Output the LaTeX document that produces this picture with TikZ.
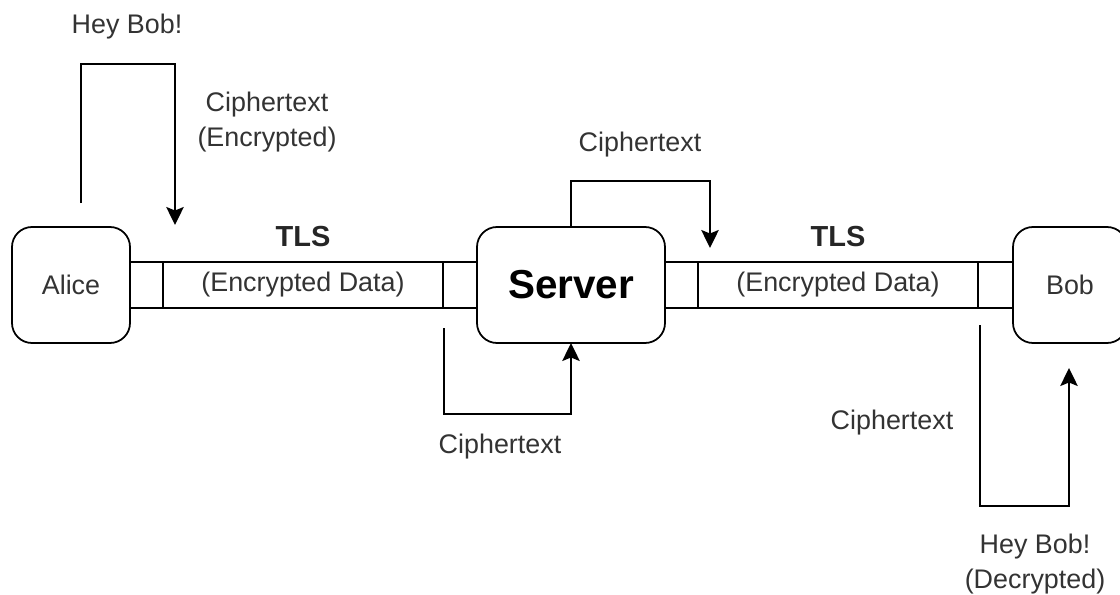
\documentclass[tikz,border=0pt]{standalone}
\usepackage{fontspec}
\setmainfont{Liberation Sans}
\usetikzlibrary{arrows.meta, positioning}
\definecolor{txtgray}{HTML}{333333}
\tikzset{
  >={Stealth[length=3.6mm,width=3.5mm,inset=0.7mm]},
  every node/.style={font=\fontsize{15.3}{19.9}\selectfont, text=txtgray},
  party/.style={
    draw, line width=1pt, rounded corners=4mm, minimum height=2.32cm,
    outer sep=0pt, inner sep=0pt
  },
  pipe/.style={
    draw, line width=1pt, minimum height=0.92cm, outer sep=0pt, inner sep=0pt
  },
  tls/.style={font=\fontsize{16.5}{18}\selectfont\bfseries, text=black!85},
  flow/.style={->, line width=1pt},
  note/.style={align=center}
}

\begin{document}
\begin{tikzpicture}
  \useasboundingbox (0,0) rectangle (22.4,11.88);
  % Alice -- Server -- Bob, joined by the two TLS tunnels
  \node[party, minimum width=2.36cm] (alice) at (1.42,6.18) {Alice};
  \node[pipe, minimum width=0.66cm, right=0pt of alice] (aliceend) {};
  \node[pipe, minimum width=5.6cm, right=0pt of aliceend] (tunnelA) {(Encrypted Data)};
  \node[pipe, minimum width=0.68cm, right=0pt of tunnelA] (srvendA) {};
  \node[party, minimum width=3.76cm, right=0pt of srvendA, text=black,
        font=\fontsize{23}{27}\selectfont\bfseries] (server) {Server};
  \node[pipe, minimum width=0.66cm, right=0pt of server] (srvendB) {};
  \node[pipe, minimum width=5.6cm, right=0pt of srvendB] (tunnelB) {(Encrypted Data)};
  \node[pipe, minimum width=0.7cm, right=0pt of tunnelB] (bobend) {};
  \node[party, minimum width=2.28cm, right=0pt of bobend] (bob) {Bob};

  \node[tls] (tlsA) at ([yshift=0.5cm]tunnelA.north) {TLS};
  \node[tls] (tlsB) at ([yshift=0.5cm]tunnelB.north) {TLS};

  % message from Alice
  \coordinate (aliceout) at ([xshift=0.2cm,yshift=0.48cm]alice.north);
  \coordinate (aliceto) at (3.5,7.38);
  \draw[flow] (aliceout) -- ++(0,2.78) -| (aliceto);
  \node[note] (plainA) at (2.54,11.34) {Hey Bob!};
  \node[note] (cipherA) at (5.34,9.43) {Ciphertext\\(Encrypted)};

  % through the server
  \coordinate (srvin) at (8.88,5.32);
  \draw[flow] (srvin) -- ++(0,-1.72) -| (server.south);
  \node[note] (cipherIn) at (10.0,2.94) {Ciphertext};
  \coordinate (srvto) at (14.2,6.92);
  \draw[flow] (server.north) -- ++(0,0.92) -| (srvto);
  \node[note] (cipherOut) at (12.8,8.98) {Ciphertext};

  % message to Bob
  \coordinate (bobin) at (19.6,5.38);
  \coordinate (bobto) at (21.38,4.52);
  \draw[flow] (bobin) -- ++(0,-3.62) -| (bobto);
  \node[note] (cipherB) at (17.84,3.42) {Ciphertext};
  \node[note] (plainB) at (20.7,0.6) {Hey Bob!\\(Decrypted)};
\end{tikzpicture}
\end{document}
